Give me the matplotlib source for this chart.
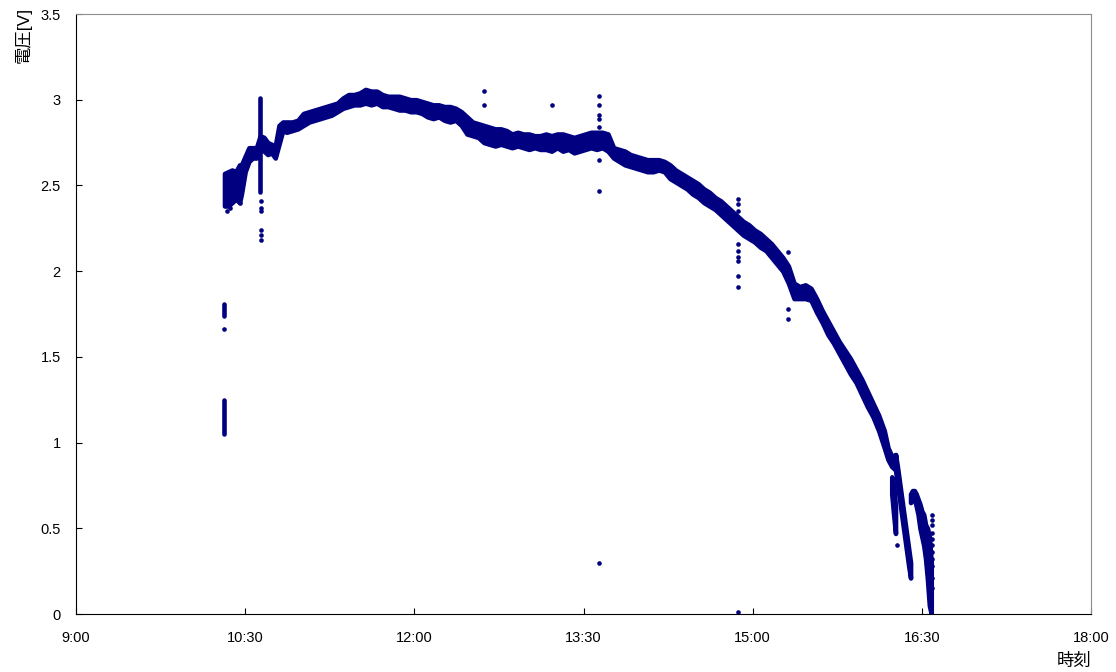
import numpy as np
import matplotlib
matplotlib.use("Agg")
import matplotlib.pyplot as plt
from matplotlib.ticker import MultipleLocator, FuncFormatter

plt.rcParams['font.family'] = ['Liberation Sans', 'Noto Sans CJK JP', 'DejaVu Sans']

# measured voltage band: time, lowest and highest reading in that slot
main_time = ["10:19", "10:21", "10:23", "10:25", "10:27", "10:28", "10:30", "10:32", "10:34", "10:36",
             "10:38", "10:40", "10:42", "10:44", "10:46", "10:48", "10:50", "10:52", "10:55", "10:58",
             "11:01", "11:04", "11:07", "11:10", "11:13", "11:16", "11:19", "11:22", "11:25", "11:28",
             "11:31", "11:34", "11:37", "11:40", "11:43", "11:46", "11:49", "11:52", "11:55", "11:58",
             "12:01", "12:04", "12:07", "12:10", "12:13", "12:16", "12:19", "12:22", "12:25", "12:28",
             "12:31", "12:34", "12:37", "12:40", "12:43", "12:46", "12:49", "12:52", "12:55", "12:58",
             "13:01", "13:04", "13:07", "13:10", "13:13", "13:16", "13:19", "13:22", "13:25", "13:28",
             "13:31", "13:34", "13:37", "13:40", "13:43", "13:46", "13:49", "13:52", "13:55", "13:58",
             "14:01", "14:04", "14:07", "14:10", "14:13", "14:16", "14:19", "14:22", "14:25", "14:28",
             "14:31", "14:34", "14:37", "14:40", "14:43", "14:46", "14:49", "14:52", "14:55", "14:58",
             "15:01", "15:04", "15:07", "15:10", "15:13", "15:16", "15:19", "15:22", "15:25", "15:28",
             "15:31", "15:34", "15:37", "15:40", "15:43", "15:46", "15:49", "15:52", "15:55", "15:58",
             "16:01", "16:04", "16:07", "16:10", "16:12", "16:14", "16:16"]
main_low = [2.38, 2.38, 2.40, 2.42, 2.40, 2.45, 2.58, 2.64, 2.66, 2.66,
            2.71, 2.70, 2.68, 2.69, 2.66, 2.74, 2.82, 2.81, 2.82, 2.83,
            2.85, 2.87, 2.88, 2.89, 2.90, 2.91, 2.93, 2.95, 2.96, 2.97,
            2.97, 2.98, 2.97, 2.98, 2.96, 2.96, 2.95, 2.94, 2.94, 2.93,
            2.93, 2.92, 2.90, 2.89, 2.90, 2.88, 2.87, 2.88, 2.85, 2.80,
            2.79, 2.78, 2.75, 2.74, 2.73, 2.74, 2.73, 2.72, 2.73, 2.72,
            2.71, 2.72, 2.71, 2.71, 2.70, 2.72, 2.70, 2.71, 2.69, 2.70,
            2.71, 2.72, 2.71, 2.72, 2.70, 2.66, 2.64, 2.62, 2.61, 2.60,
            2.59, 2.58, 2.58, 2.59, 2.58, 2.54, 2.52, 2.50, 2.48, 2.45,
            2.43, 2.40, 2.38, 2.36, 2.33, 2.30, 2.27, 2.24, 2.21, 2.19,
            2.17, 2.14, 2.12, 2.08, 2.04, 2.00, 1.93, 1.84, 1.84, 1.84,
            1.83, 1.76, 1.70, 1.63, 1.58, 1.52, 1.46, 1.40, 1.35, 1.28,
            1.21, 1.15, 1.07, 0.97, 0.90, 0.86, 0.84]
main_high = [2.57, 2.58, 2.59, 2.58, 2.62, 2.62, 2.67, 2.72, 2.72, 2.72,
             2.79, 2.78, 2.75, 2.74, 2.73, 2.85, 2.87, 2.87, 2.87, 2.88,
             2.92, 2.93, 2.94, 2.95, 2.96, 2.97, 2.98, 3.01, 3.03, 3.03,
             3.04, 3.06, 3.05, 3.05, 3.03, 3.02, 3.02, 3.02, 3.01, 3.00,
             3.00, 2.99, 2.98, 2.97, 2.97, 2.96, 2.96, 2.95, 2.93, 2.90,
             2.87, 2.86, 2.85, 2.84, 2.83, 2.83, 2.82, 2.80, 2.81, 2.80,
             2.80, 2.79, 2.79, 2.80, 2.79, 2.80, 2.80, 2.79, 2.78, 2.79,
             2.80, 2.81, 2.81, 2.81, 2.80, 2.72, 2.71, 2.70, 2.68, 2.67,
             2.66, 2.65, 2.65, 2.65, 2.64, 2.62, 2.59, 2.57, 2.55, 2.53,
             2.51, 2.48, 2.46, 2.43, 2.41, 2.38, 2.35, 2.32, 2.29, 2.27,
             2.24, 2.22, 2.19, 2.16, 2.12, 2.08, 2.03, 1.93, 1.91, 1.92,
             1.90, 1.84, 1.77, 1.71, 1.65, 1.59, 1.54, 1.49, 1.43, 1.37,
             1.30, 1.23, 1.16, 1.07, 0.97, 0.92, 0.93]

# late afternoon streaks where the reading dropped sharply
drop1_time = ["16:14", "16:15", "16:16"]
drop1_low = [0.70, 0.58, 0.47]
drop1_high = [0.80, 0.76, 0.62]

drop2_time = ["16:16", "16:17", "16:18", "16:19", "16:20", "16:21", "16:22", "16:23", "16:24"]
drop2_low = [0.84, 0.76, 0.68, 0.60, 0.52, 0.44, 0.36, 0.28, 0.21]
drop2_high = [0.93, 0.86, 0.78, 0.70, 0.62, 0.54, 0.46, 0.38, 0.30]

drop3_time = ["16:24", "16:25", "16:26", "16:27", "16:28", "16:29", "16:30", "16:31", "16:32",
              "16:33", "16:34", "16:35"]
drop3_low = [0.65, 0.68, 0.67, 0.63, 0.58, 0.50, 0.45, 0.40, 0.32, 0.20, 0.05, 0.00]
drop3_high = [0.70, 0.72, 0.72, 0.70, 0.67, 0.64, 0.60, 0.58, 0.52, 0.50, 0.45, 0.30]

# short bursts of scattered readings
burst_time = ["10:18.7", "10:19", "10:38"]
burst_low = [1.05, 1.74, 2.46]
burst_high = [1.25, 1.81, 3.01]

# isolated readings
spot_time = ["10:19", "10:20.5", "10:22", "10:27",
             "10:38.5", "10:38.5", "10:38.5", "10:38.5", "10:38.5", "10:38.5",
             "12:37", "12:37", "13:13",
             "13:38", "13:38", "13:38", "13:38", "13:38", "13:38", "13:38", "13:38",
             "14:52", "14:52", "14:52", "14:52", "14:52", "14:52", "14:52", "14:52", "14:52", "14:52",
             "15:19", "15:19", "15:19", "16:17",
             "16:35.5", "16:35.5", "16:35.5", "16:35.5", "16:35.5", "16:35.5",
             "16:35.5", "16:35.5", "16:35.5", "16:35.5", "16:35.5"]
spot_volt = [1.66, 2.35, 2.37, 2.40,
             2.41, 2.37, 2.35, 2.24, 2.21, 2.18,
             3.05, 2.97, 2.97,
             3.02, 2.97, 2.91, 2.89, 2.84, 2.65, 2.47, 0.30,
             2.42, 2.39, 2.35, 2.16, 2.12, 2.08, 2.06, 1.97, 1.91, 0.01,
             2.11, 1.78, 1.72, 0.40,
             0.58, 0.55, 0.52, 0.47, 0.44, 0.40, 0.36, 0.32, 0.28, 0.21, 0.15]


def to_hours(s):
    h, m = s.split(":")
    return int(h) + float(m) / 60


def hm(x, pos):
    h = int(x)
    m = int(round((x - h) * 60))
    return f"{h}:{m:02d}"


navy = "#000080"
dot_px = 4.6
dot_pt = dot_px * 72 / 100

fig = plt.figure(figsize=(11.16, 6.72), dpi=100)
ax = fig.add_axes([76 / 1116, 58 / 672, 1015 / 1116, 600 / 672])

# continuous stretches: fill between low and high, edge widened by one dot
for t, lo, hi in [(main_time, main_low, main_high),
                  (drop1_time, drop1_low, drop1_high),
                  (drop2_time, drop2_low, drop2_high),
                  (drop3_time, drop3_low, drop3_high)]:
    x = [to_hours(s) for s in t]
    band = ax.fill_between(x, lo, hi, facecolor=navy, edgecolor=navy, linewidth=dot_pt)
    band.set_joinstyle("round")
    band.set_capstyle("round")

lines = ax.vlines([to_hours(s) for s in burst_time], burst_low, burst_high,
                  colors=navy, linewidth=dot_pt)
lines.set_capstyle("round")

ax.scatter([to_hours(s) for s in spot_time], spot_volt, s=dot_pt ** 2,
           color=navy, linewidths=0, clip_on=False)

ax.set_xlim(9, 18)
ax.set_ylim(0, 3.5)
ax.xaxis.set_major_locator(MultipleLocator(1.5))
ax.xaxis.set_major_formatter(FuncFormatter(hm))
ax.yaxis.set_major_locator(MultipleLocator(0.5))
ax.yaxis.set_major_formatter(FuncFormatter(lambda v, p: f"{v:g}"))
ax.tick_params(axis="x", direction="in", length=4, pad=12, labelsize=10.5)
ax.tick_params(axis="y", direction="in", length=4, pad=11, labelsize=10.5)

ax.spines["left"].set_color("black")
ax.spines["bottom"].set_color("black")
ax.spines["top"].set_color("#8c8c8c")
ax.spines["right"].set_color("#8c8c8c")

fig.text(23 / 1116, 1 - 7 / 672, "電圧[V]", rotation=90, ha="center", va="top", fontsize=12.5)
fig.text(1091 / 1116, 1 - 661 / 672, "時刻", ha="right", va="center", fontsize=12.5)

fig.savefig("out.png", dpi=100)
